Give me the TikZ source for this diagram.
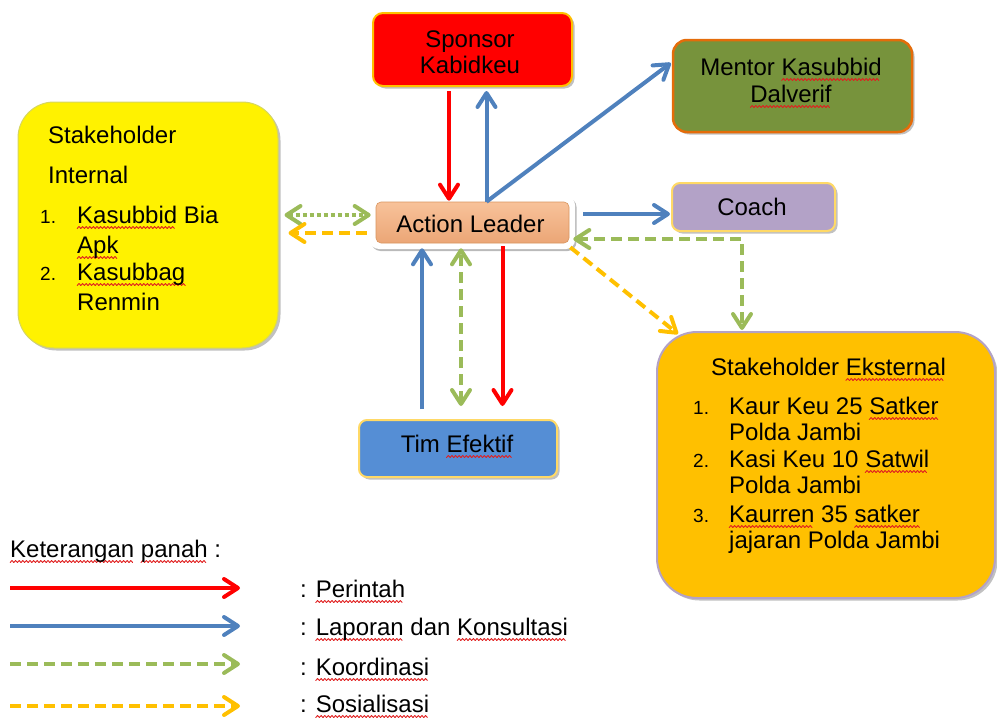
\documentclass[tikz,border=0pt]{standalone}
\usepackage{fontspec}
\setmainfont{Liberation Sans}
\usetikzlibrary{arrows.meta,shadows}

\definecolor{arrred}{HTML}{FF0000}
\definecolor{arrblue}{HTML}{4F81BD}
\definecolor{arrgreen}{HTML}{9BBB59}
\definecolor{arryellow}{HTML}{FFC000}
\definecolor{gold}{HTML}{FFC000}
\definecolor{lightgold}{HTML}{FFD966}
\definecolor{olive}{HTML}{77933C}
\definecolor{orangeedge}{HTML}{E46C0A}
\definecolor{lavender}{HTML}{B3A2C7}
\definecolor{timblue}{HTML}{558ED5}
\definecolor{peachtop}{HTML}{F8C29A}
\definecolor{peachbot}{HTML}{EBA676}
\definecolor{peachedge}{HTML}{D9955F}
\definecolor{yellowedge}{HTML}{D6D660}
\definecolor{squig}{HTML}{E02020}

% red wavy underline under a word (spell-check mark)
\newsavebox\wavebox
\newcommand\sq[1]{\setbox0\hbox{#1}\rlap{\raisebox{-5.5pt}{\hbox to \wd0{\leaders\copy\wavebox\hfill}}}#1}

\tikzset{
  box/.style={rounded corners=#1, inner sep=0pt, line width=2pt,
    drop shadow={shadow xshift=2.5pt, shadow yshift=-2.5pt, opacity=0.35, fill=black!70}},
  txt/.style={anchor=base, inner sep=0pt, font=\fontsize{24}{27}\selectfont},
  txtl/.style={txt, anchor=base west},
  num/.style={anchor=base west, inner sep=0pt, font=\fontsize{19}{22}\selectfont},
  tipbarb/.tip={Straight Barb[length=14pt, width=18pt, round]},
  conn/.style={line width=4pt},
  perintah/.style={conn, draw=arrred, -tipbarb},
  laporan/.style={conn, draw=arrblue, -tipbarb},
  koordinasi/.style={conn, draw=arrgreen, dash pattern=on 11pt off 6pt},
  koordot/.style={conn, draw=arrgreen, dash pattern=on 4pt off 3pt},
  sosialisasi/.style={conn, draw=arryellow, dash pattern=on 11pt off 6pt, -tipbarb},
}

\begin{document}
\sbox\wavebox{\begin{pgfpicture}
  \pgfpathrectanglecorners{\pgfpoint{0pt}{0pt}}{\pgfpoint{3.6pt}{2pt}}
  \pgfusepath{use as bounding box}
  \pgfsetlinewidth{0.9pt}\pgfsetroundcap\pgfsetroundjoin
  \pgfsetstrokecolor{squig}
  \pgfpathmoveto{\pgfpoint{0pt}{0pt}}
  \pgfpathlineto{\pgfpoint{1.8pt}{2pt}}
  \pgfpathlineto{\pgfpoint{3.6pt}{0pt}}
  \pgfusepath{stroke}
\end{pgfpicture}}%
\begin{tikzpicture}[x=1pt, y=-1pt]
\useasboundingbox (0,0) rectangle (997,720);

% ---- boxes ----
\node[box=10pt, fill=red, draw=gold, minimum width=199pt, minimum height=73pt] (sponsor) at (472.5,49.5) {};
\node[box=14pt, fill=olive, draw=orangeedge, line width=2.5pt, minimum width=239pt, minimum height=92pt] (mentor) at (792.5,86) {};
\node[box=36pt, fill=yellow, draw=yellowedge, line width=1pt, minimum width=260pt, minimum height=246pt] (internal) at (148,225) {};
\node[box=40pt, fill=gold, draw=lavender, minimum width=338pt, minimum height=266pt] (eksternal) at (826,465) {};
\node[box=8pt, fill=lavender, draw=lightgold, minimum width=163pt, minimum height=48pt] (coach) at (753.5,207) {};
\node[box=8pt, fill=timblue, draw=lightgold, minimum width=198pt, minimum height=57pt] (tim) at (458,448.5) {};
% action leader: white glow frame with a shaded box on top
\node[rounded corners=9pt, inner sep=0pt, fill=white, minimum width=205pt, minimum height=53pt,
      drop shadow={shadow xshift=1.5pt, shadow yshift=-2pt, opacity=0.45, fill=black!60}] (alglow) at (472.5,222.5) {};
\node[rounded corners=5pt, inner sep=0pt, top color=peachtop, bottom color=peachbot, draw=peachedge, line width=0.6pt,
      minimum width=193pt, minimum height=41pt] (al) at (472.5,222.5) {};

% ---- box texts ----
\node[txt] (s1) at (470,47) {Sponsor};
\node[txt] (s2) at (470,73) {Kabidkeu};
\node[txt] (m1) at (791,75) {Mentor \sq{Kasubbid}};
\node[txt] (m2) at (791,102) {\sq{Dalverif}};
\node[txt] (a1) at (470.5,232) {Action Leader};
\node[txt] (c1) at (752,215) {Coach};
\node[txt] (t1) at (457,452) {Tim \sq{Efektif}};

\node[txtl] (i1) at (48,143) {Stakeholder};
\node[txtl] (i2) at (48,183) {Internal};
\node[num]  (in1) at (40,223) {1.};
\node[txtl] (i3) at (77,223) {\sq{Kasubbid} Bia};
\node[txtl] (i4) at (77,253) {\sq{Apk}};
\node[num]  (in2) at (40,280) {2.};
\node[txtl] (i5) at (77,280) {\sq{Kasubbag}};
\node[txtl] (i6) at (77,310) {Renmin};

\node[txt]  (e0) at (828.5,375) {Stakeholder \sq{Eksternal}};
\node[num]  (en1) at (693,414) {1.};
\node[txtl] (e1) at (729,414) {Kaur Keu 25 \sq{Satker}};
\node[txtl] (e2) at (729,440) {Polda Jambi};
\node[num]  (en2) at (693,467) {2.};
\node[txtl] (e3) at (729,467) {Kasi Keu 10 \sq{Satwil}};
\node[txtl] (e4) at (729,493) {Polda Jambi};
\node[num]  (en3) at (693,522) {3.};
\node[txtl] (e5) at (729,522) {\sq{Kaurren} 35 \sq{satker}};
\node[txtl] (e6) at (729,548) {jajaran Polda Jambi};

% ---- connectors ----
\draw[perintah] ([shift={(-23.5,4)}]sponsor.south) -- ([shift={(-23.5,-1)}]al.north);
\draw[laporan]  ([shift={(14,0)}]al.north) -- ([shift={(14,4)}]sponsor.south);
\draw[laporan]  ([shift={(14,0)}]al.north) -- ([shift={(-1,-23)}]mentor.west);
\draw[laporan]  ([shift={(14,-8.5)}]al.east) -- ([shift={(-1,7)}]coach.west);
\draw[koordinasi, tipbarb-tipbarb] ([shift={(4,16.5)}]al.east) -| ([shift={(-84,-1)}]eksternal.north);
\draw[sosialisasi] ([shift={(1,4)}]al.south east) -- ([shift={(22,3)}]eksternal.north west);
\draw[koordot, tipbarb-tipbarb] ([shift={(6,-10)}]internal.east) -- ([shift={(-5,-7.5)}]al.west);
\draw[sosialisasi] ([shift={(-9,10.5)}]al.west) -- ([shift={(10,8)}]internal.east);
\draw[laporan]  ([shift={(-36,-10)}]tim.north) -- ([shift={(-50.5,5)}]al.south);
\draw[koordinasi, tipbarb-tipbarb] ([shift={(3,-13)}]tim.north) -- ([shift={(-11.5,5)}]al.south);
\draw[perintah] ([shift={(30,3)}]al.south) -- ([shift={(44.5,-13)}]tim.north);

% ---- legend ----
\node[txtl] (lg0) at (10,557) {\sq{Keterangan} \sq{panah} :};
\coordinate (lr1) at (10,588);  \coordinate (lr2) at (240,588);
\coordinate (lb1) at (10,626);  \coordinate (lb2) at (240,626);
\coordinate (lg1) at (10,664);  \coordinate (lg2) at (240,664);
\coordinate (ly1) at (10,706);  \coordinate (ly2) at (240,706);
\draw[perintah] (lr1) -- (lr2);
\draw[laporan] (lb1) -- (lb2);
\draw[koordinasi, -tipbarb] (lg1) -- (lg2);
\draw[sosialisasi] (ly1) -- (ly2);
\node[txtl] (lt1) at (300,597) {: \sq{Perintah}};
\node[txtl] (lt2) at (300,635) {: \sq{Laporan} dan \sq{Konsultasi}};
\node[txtl] (lt3) at (300,675) {: \sq{Koordinasi}};
\node[txtl] (lt4) at (300,712) {: \sq{Sosialisasi}};
\end{tikzpicture}
\end{document}
